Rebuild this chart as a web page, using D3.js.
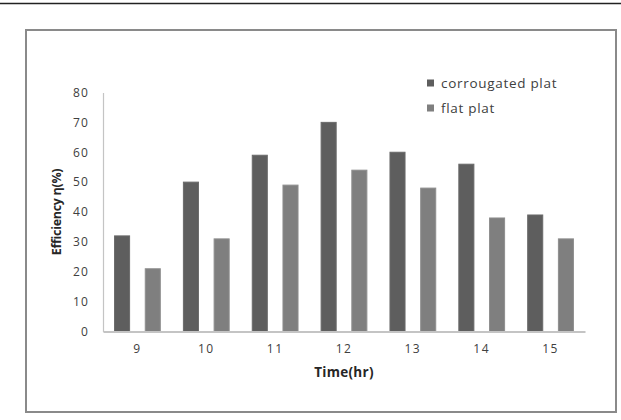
<!DOCTYPE html>
<html>
<head>
<meta charset="utf-8">
<script src="https://cdn.jsdelivr.net/npm/d3@7"></script>
<style>
  body { margin: 0; background: #fff; }
  text { font-family: "Open Sans", "Noto Sans", sans-serif; }
</style>
</head>
<body>
<div id="chart"></div>
<script>
// chart data
const hours = ["9", "10", "11", "12", "13", "14", "15"];
const seriesNames = ["corrougated plat", "flat plat"];
const corrugated = [32, 50, 59, 70, 60, 56, 39];
const flat = [21, 31, 49, 54, 48, 38, 31];
const yTicks = [0, 10, 20, 30, 40, 50, 60, 70, 80];

const W = 621, H = 420;
const plot = {left: 103, right: 585, top: 92.5, bottom: 331.5};

const svg = d3.select("#chart")
    .append("svg")
    .attr("width", W)
    .attr("height", H);

// page rule at top (cut-off page)
svg.append("line")
    .attr("x1", 0).attr("x2", W)
    .attr("y1", 3.5).attr("y2", 3.5)
    .attr("stroke", "#222")
    .attr("stroke-width", 1.5);

// chart frame
svg.append("rect")
    .attr("x", 26).attr("y", 30)
    .attr("width", 590).attr("height", 382)
    .attr("fill", "#fff")
    .attr("stroke", "#8a8a8a")
    .attr("stroke-width", 2);

const data = hours.map((h, i) => ({hour: h, values: [corrugated[i], flat[i]]}));

const x = d3.scaleBand()
    .domain(hours)
    .range([plot.left, plot.right])
    .padding(0);

const xSub = d3.scaleBand()
    .domain(seriesNames)
    .range([0, x.bandwidth()])
    .paddingInner(0.51)
    .paddingOuter(0.376);

const y = d3.scaleLinear()
    .domain([0, 80])
    .range([plot.bottom, plot.top]);

const color = d3.scaleOrdinal()
    .domain(seriesNames)
    .range(["#5e5e5e", "#7f7f7f"]);

// bars
svg.append("g")
    .selectAll("g")
    .data(data)
    .join("g")
    .attr("transform", d => `translate(${x(d.hour)},0)`)
    .selectAll("rect")
    .data(d => seriesNames.map((k, i) => ({key: k, value: d.values[i]})))
    .join("rect")
    .attr("x", d => xSub(d.key))
    .attr("y", d => y(d.value))
    .attr("width", xSub.bandwidth())
    .attr("height", d => y(0) - y(d.value))
    .attr("fill", d => color(d.key))
    .attr("stroke", d => d.key === seriesNames[0] ? "#6a6a6a" : "#8e8e8e")
    .attr("stroke-width", 1);

// y axis
const yAxis = svg.append("g")
    .attr("transform", `translate(${plot.left},0)`)
    .call(d3.axisLeft(y).tickValues(yTicks).tickSize(0).tickPadding(14));
yAxis.select(".domain").attr("stroke", "#c4c4c4").attr("stroke-width", 1.2);
yAxis.selectAll("text")
    .attr("fill", "#404040")
    .style("font-size", "12px")
    .style("letter-spacing", "1.2px");

// x axis
const xAxis = svg.append("g")
    .attr("transform", `translate(0,${plot.bottom})`)
    .call(d3.axisBottom(x).tickSize(0).tickPadding(13));
xAxis.select(".domain").attr("stroke", "#c4c4c4").attr("stroke-width", 2);
xAxis.selectAll("text")
    .attr("fill", "#404040")
    .style("font-size", "12px")
    .style("letter-spacing", "1.5px");

// axis titles
svg.append("text")
    .attr("x", (plot.left + plot.right) / 2)
    .attr("y", 377)
    .attr("text-anchor", "middle")
    .attr("fill", "#262626")
    .style("font-size", "13.5px")
    .style("font-weight", "bold")
    .style("letter-spacing", "0.3px")
    .text("Time(hr)");

svg.append("text")
    .attr("transform", "translate(61,212) rotate(-90)")
    .attr("text-anchor", "middle")
    .attr("fill", "#262626")
    .style("font-size", "12.5px")
    .style("font-weight", "bold")
    .style("letter-spacing", "-0.3px")
    .text("Efficiency η(%)");

// legend
const legend = svg.append("g")
    .selectAll("g")
    .data(seriesNames)
    .join("g")
    .attr("transform", (d, i) => `translate(427,${83 + i * 25})`);
legend.append("rect")
    .attr("x", 0).attr("y", -3.5)
    .attr("width", 7).attr("height", 7)
    .attr("fill", d => color(d));
legend.append("text")
    .attr("x", 14)
    .attr("dy", "0.35em")
    .attr("fill", "#404040")
    .style("font-size", "13.5px")
    .style("letter-spacing", "0.7px")
    .text(d => d);
</script>
</body>
</html>
